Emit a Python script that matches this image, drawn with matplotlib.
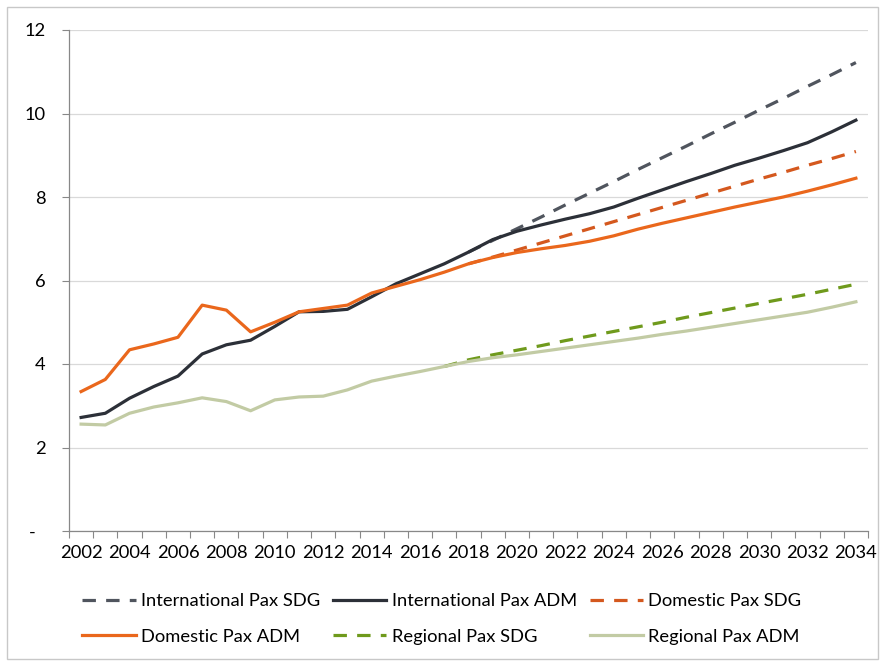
import matplotlib
matplotlib.use("Agg")
import matplotlib.pyplot as plt
from matplotlib.patches import Rectangle
import numpy as np

plt.rcParams['font.family'] = ['Lato', 'DejaVu Sans']

years = list(range(2002, 2035))

intl_adm = [2.72, 2.82, 3.18, 3.46, 3.71, 4.24, 4.46, 4.57, 4.90, 5.25, 5.26,
            5.31, 5.61, 5.92, 6.16, 6.40, 6.68, 6.98, 7.18, 7.33, 7.47, 7.60,
            7.76, 7.97, 8.17, 8.37, 8.56, 8.76, 8.93, 9.11, 9.30, 9.56, 9.84]
dom_adm = [3.34, 3.63, 4.34, 4.48, 4.64, 5.41, 5.29, 4.77, 5.00, 5.25, 5.33,
           5.41, 5.70, 5.86, 6.02, 6.20, 6.40, 6.55, 6.67, 6.76, 6.84, 6.94,
           7.07, 7.23, 7.37, 7.50, 7.63, 7.76, 7.88, 8.00, 8.14, 8.29, 8.45]
reg_adm = [2.56, 2.54, 2.82, 2.97, 3.07, 3.19, 3.10, 2.88, 3.14, 3.21, 3.23,
           3.38, 3.59, 3.71, 3.82, 3.94, 4.06, 4.15, 4.22, 4.30, 4.38, 4.46,
           4.54, 4.62, 4.71, 4.79, 4.88, 4.97, 5.06, 5.15, 5.24, 5.36, 5.49]

sdg_years_intl = list(range(2018, 2035))
intl_sdg = [6.68, 6.96, 7.24, 7.52, 7.81, 8.09, 8.37, 8.66, 8.94, 9.22, 9.51,
            9.79, 10.08, 10.36, 10.65, 10.93, 11.22]
sdg_years_dom = list(range(2018, 2035))
dom_sdg = [6.40, 6.56, 6.73, 6.90, 7.07, 7.24, 7.41, 7.58, 7.75, 7.92, 8.09,
           8.26, 8.43, 8.59, 8.76, 8.92, 9.09]
sdg_years_reg = list(range(2017, 2035))
reg_sdg = [3.94, 4.10, 4.22, 4.33, 4.44, 4.56, 4.67, 4.78, 4.89, 5.00, 5.12,
           5.23, 5.34, 5.45, 5.56, 5.67, 5.79, 5.91]

fig = plt.figure(figsize=(8.83, 6.62), dpi=100)
ax = fig.add_axes([69 / 883, 1 - 531 / 662, (868 - 69) / 883, (531 - 30) / 662])

lw = 2.3
dash = (4.2, 3.2)
c_intl_sdg = '#50555e'
c_intl_adm = '#2c3038'
c_dom_sdg = '#d4581e'
c_dom_adm = '#ea671c'
c_reg_sdg = '#6f9a1c'
c_reg_adm = '#c2cba4'

h1, = ax.plot(sdg_years_intl, intl_sdg, color=c_intl_sdg, lw=lw, dashes=dash,
              label='International Pax SDG')
h2, = ax.plot(years, intl_adm, color=c_intl_adm, lw=lw,
              label='International Pax ADM')
h3, = ax.plot(sdg_years_dom, dom_sdg, color=c_dom_sdg, lw=lw, dashes=dash,
              label='Domestic Pax SDG')
h4, = ax.plot(years, dom_adm, color=c_dom_adm, lw=lw,
              label='Domestic Pax ADM')
h5, = ax.plot(sdg_years_reg, reg_sdg, color=c_reg_sdg, lw=lw, dashes=dash,
              label='Regional Pax SDG')
h6, = ax.plot(years, reg_adm, color=c_reg_adm, lw=lw,
              label='Regional Pax ADM')

ax.set_xlim(2001.5, 2034.5)
ax.set_ylim(0, 12)

fs = 13.2
ax.set_xticks(range(2002, 2035, 2))
ax.set_xticklabels([str(y) for y in range(2002, 2035, 2)])
ax.set_xticks(np.arange(2001.5, 2035, 1.0), minor=True)
ax.tick_params(axis='x', which='major', length=0, pad=10, labelsize=fs,
               colors='#000000')
ax.tick_params(axis='x', which='minor', length=5, width=0.8, color='#888888',
               direction='out')

yt = list(range(0, 13, 2))
ax.set_yticks(yt)
ax.set_yticklabels(['-  '] + [str(v) for v in yt[1:]])
ax.tick_params(axis='y', length=5, width=0.8, color='#888888', pad=12,
               labelsize=fs)

ax.grid(axis='y', color='#d9d9d9', lw=0.9)
ax.set_axisbelow(True)
for s in ['top', 'right']:
    ax.spines[s].set_visible(False)
for s in ['left', 'bottom']:
    ax.spines[s].set_color('#888888')
    ax.spines[s].set_linewidth(0.9)

order = [h1, h4, h2, h5, h3, h6]
leg = fig.legend(handles=order, labels=[h.get_label() for h in order],
                 ncol=3, loc='center', bbox_to_anchor=(442 / 883, 1 - 619 / 662),
                 frameon=False, fontsize=fs, handlelength=2.9,
                 handletextpad=0.3, columnspacing=0.7, labelspacing=1.05)

fig.patches.append(Rectangle((7 / 883, 3 / 662), (878 - 7) / 883, (655 - 3) / 662,
                             transform=fig.transFigure, fill=False,
                             edgecolor='#c8c8c8', lw=1.0))

fig.savefig('out.png', dpi=100)
